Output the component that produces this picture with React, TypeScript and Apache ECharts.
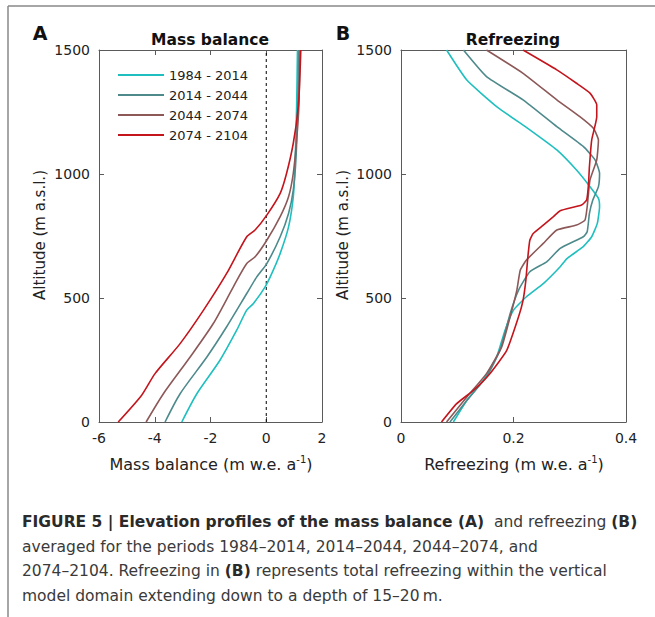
import React, { useEffect, useRef } from "react";
import * as echarts from "echarts";

const periods = ["1984 - 2014", "2014 - 2044", "2044 - 2074", "2074 - 2104"];
const colors = ["#1FBFBF", "#4E8A8C", "#8C5858", "#C4141C"];

// Panel A: mass balance (m w.e. a-1) vs altitude (m a.s.l.)
const mbAlt1 = [0, 114, 249, 370, 451, 478, 545, 599, 680, 787, 908, 1030, 1272, 1500];
const mbVal1 = [-3.03, -2.49, -1.66, -1.06, -0.70, -0.46, -0.04, 0.20, 0.50, 0.80, 0.97, 1.03, 1.09, 1.12];
const mbAlt2 = [0, 114, 262, 384, 518, 585, 639, 747, 841, 935, 1070, 1272, 1500];
const mbVal2 = [-3.63, -3.09, -2.13, -1.42, -0.70, -0.34, 0.02, 0.50, 0.80, 0.97, 1.07, 1.13, 1.17];
const mbAlt3 = [0, 114, 262, 397, 545, 639, 666, 733, 828, 908, 1003, 1137, 1272, 1500];
const mbVal3 = [-4.31, -3.69, -2.73, -1.90, -1.18, -0.70, -0.40, 0.02, 0.50, 0.80, 0.97, 1.09, 1.17, 1.21];
const mbAlt4 = [0, 108, 195, 316, 451, 599, 747, 774, 834, 922, 1003, 1124, 1272, 1406, 1500];
const mbVal4 = [-5.31, -4.47, -3.99, -3.09, -2.25, -1.42, -0.70, -0.40, 0.02, 0.50, 0.73, 0.97, 1.15, 1.21, 1.24];

// Panel B: refreezing (m w.e. a-1) vs altitude
const rfAlt1 = [0, 87, 168, 262, 370, 451, 505, 558, 626, 659, 707, 747, 801, 868, 902, 949, 1016, 1097, 1178, 1272, 1379, 1500];
const rfVal1 = [0.093, 0.117, 0.146, 0.170, 0.185, 0.200, 0.223, 0.253, 0.283, 0.295, 0.324, 0.339, 0.349, 0.353, 0.351, 0.336, 0.312, 0.277, 0.229, 0.170, 0.117, 0.081];
const rfAlt2 = [0, 87, 182, 289, 437, 532, 606, 646, 700, 747, 767, 841, 895, 949, 1003, 1057, 1111, 1191, 1299, 1393, 1500];
const rfVal2 = [0.087, 0.117, 0.152, 0.176, 0.194, 0.209, 0.229, 0.259, 0.283, 0.324, 0.331, 0.335, 0.341, 0.351, 0.353, 0.345, 0.324, 0.277, 0.217, 0.152, 0.111];
const rfAlt3 = [0, 101, 195, 303, 424, 532, 612, 653, 720, 774, 794, 814, 868, 976, 1057, 1137, 1184, 1231, 1299, 1406, 1500];
const rfVal3 = [0.081, 0.117, 0.152, 0.179, 0.194, 0.206, 0.212, 0.223, 0.253, 0.277, 0.312, 0.327, 0.331, 0.336, 0.348, 0.351, 0.342, 0.318, 0.277, 0.217, 0.152];
const rfAlt4 = [0, 74, 128, 195, 289, 424, 491, 572, 653, 733, 760, 794, 828, 852, 875, 895, 949, 1030, 1137, 1231, 1279, 1326, 1366, 1420, 1500];
const rfVal4 = [0.072, 0.099, 0.129, 0.158, 0.188, 0.209, 0.217, 0.222, 0.225, 0.229, 0.235, 0.253, 0.271, 0.283, 0.321, 0.330, 0.333, 0.335, 0.339, 0.348, 0.348, 0.336, 0.312, 0.277, 0.217];

const mbTicks = { min: -6, max: 2, interval: 2 };
const rfTicks = { min: 0, max: 0.4, interval: 0.2 };
const altTicks = { min: 0, max: 1500, interval: 500 };
const zeroLine = [0, 0];
const zeroAlt = [0, 1500];

const FONT = "DejaVu Sans, Verdana, sans-serif";
const AXIS_COLOR = "#5a5a5a";
const TEXT_COLOR = "#222";

function zip(vals: number[], alts: number[]) {
  return vals.map((v, i) => [v, alts[i]]);
}

function axisBase(extra: any) {
  return {
    type: "value",
    axisLine: { show: true, onZero: false, lineStyle: { color: AXIS_COLOR, width: 1 } },
    axisTick: { show: true, inside: true, length: 5, lineStyle: { color: AXIS_COLOR } },
    splitLine: { show: false },
    axisLabel: { color: TEXT_COLOR, fontFamily: FONT, fontSize: 14, margin: 9, formatter: (v: number) => String(v) },
    ...extra,
  };
}

export default function App() {
  const ref = useRef<HTMLDivElement>(null);
  useEffect(() => {
    if (!ref.current) return;
    const chart = echarts.init(ref.current, null, { renderer: "svg" });
    const mbSets = [zip(mbVal1, mbAlt1), zip(mbVal2, mbAlt2), zip(mbVal3, mbAlt3), zip(mbVal4, mbAlt4)];
    const rfSets = [zip(rfVal1, rfAlt1), zip(rfVal2, rfAlt2), zip(rfVal3, rfAlt3), zip(rfVal4, rfAlt4)];
    const series: any[] = [];
    series.push({
      type: "line",
      name: "zero",
      xAxisIndex: 0,
      yAxisIndex: 0,
      data: zeroLine.map((v, i) => [v, zeroAlt[i]]),
      symbol: "none",
      lineStyle: { color: "#000", width: 1, type: [3, 3] },
      silent: true,
    });
    periods.forEach((p, i) => {
      series.push({
        type: "line",
        name: p,
        xAxisIndex: 0,
        yAxisIndex: 0,
        data: mbSets[i],
        symbol: "none",
        showSymbol: false,
        smooth: 0.25,
        lineStyle: { color: colors[i], width: 1.6 },
        itemStyle: { color: colors[i] },
      });
    });
    periods.forEach((p, i) => {
      series.push({
        type: "line",
        name: p,
        xAxisIndex: 2,
        yAxisIndex: 2,
        data: rfSets[i],
        symbol: "none",
        showSymbol: false,
        smooth: 0.15,
        lineStyle: { color: colors[i], width: 1.6 },
        itemStyle: { color: colors[i] },
      });
    });

    const supRich = {
      sup: { fontSize: 10, fontFamily: FONT, fill: TEXT_COLOR, verticalAlign: "top", lineHeight: 20, padding: [0, 0, 8, 0] },
      n: { fontSize: 16, fontFamily: FONT, fill: TEXT_COLOR, lineHeight: 20 },
    };

    chart.setOption({
      animation: false,
      backgroundColor: "#fff",
      grid: [
        { left: 99, top: 50, width: 223, height: 372, containLabel: false },
        { left: 401, top: 50, width: 225, height: 372, containLabel: false },
      ],
      xAxis: [
        axisBase({ gridIndex: 0, position: "bottom", ...mbTicks }),
        axisBase({ gridIndex: 0, position: "top", ...mbTicks, axisLabel: { show: false } }),
        axisBase({ gridIndex: 1, position: "bottom", ...rfTicks }),
        axisBase({ gridIndex: 1, position: "top", ...rfTicks, axisLabel: { show: false } }),
      ],
      yAxis: [
        axisBase({ gridIndex: 0, position: "left", ...altTicks }),
        axisBase({ gridIndex: 0, position: "right", ...altTicks, axisLabel: { show: false } }),
        axisBase({ gridIndex: 1, position: "left", ...altTicks }),
        axisBase({ gridIndex: 1, position: "right", ...altTicks, axisLabel: { show: false } }),
      ],
      legend: {
        data: periods.map((p) => ({ name: p, icon: "rect" })),
        orient: "vertical",
        left: 113,
        top: 63,
        itemWidth: 46,
        itemHeight: 2,
        itemGap: 6,
        textStyle: { color: TEXT_COLOR, fontFamily: FONT, fontSize: 13, lineHeight: 14 },
        selectedMode: false,
      },
      series,
      graphic: [
        { type: "line", shape: { x1: 8, y1: 6, x2: 655, y2: 6 }, style: { stroke: "#888", lineWidth: 1.5 } },
        { type: "line", shape: { x1: 8, y1: 6, x2: 8, y2: 617 }, style: { stroke: "#888", lineWidth: 1.5 } },
        { type: "text", x: 40, y: 33, style: { text: "A", font: `bold 19px ${FONT}`, fill: "#111", align: "center", verticalAlign: "middle" } },
        { type: "text", x: 343, y: 33, style: { text: "B", font: `bold 19px ${FONT}`, fill: "#111", align: "center", verticalAlign: "middle" } },
        { type: "text", x: 210, y: 40, style: { text: "Mass balance", font: `bold 15.5px ${FONT}`, fill: "#111", align: "center", verticalAlign: "middle" } },
        { type: "text", x: 513, y: 40, style: { text: "Refreezing", font: `bold 15.5px ${FONT}`, fill: "#111", align: "center", verticalAlign: "middle" } },
        { type: "text", x: 40, y: 235, rotation: Math.PI / 2, style: { text: "Altitude (m a.s.l.)", font: `15px ${FONT}`, fill: TEXT_COLOR, align: "center", verticalAlign: "middle" } },
        { type: "text", x: 343, y: 235, rotation: Math.PI / 2, style: { text: "Altitude (m a.s.l.)", font: `15px ${FONT}`, fill: TEXT_COLOR, align: "center", verticalAlign: "middle" } },
        { type: "text", x: 211, y: 464, style: { text: "{n|Mass balance (m w.e. a}{sup|-1}{n|)}", rich: supRich, align: "center", verticalAlign: "middle" } },
        { type: "text", x: 514, y: 464, style: { text: "{n|Refreezing (m w.e. a}{sup|-1}{n|)}", rich: supRich, align: "center", verticalAlign: "middle" } },
        {
          type: "text",
          x: 22,
          y: 510,
          style: {
            text:
              "{b|FIGURE 5 | Elevation profiles of the mass balance (A)}{r|  and refreezing }{b|(B)}\n" +
              "{r|averaged for the periods 1984–2014, 2014–2044, 2044–2074, and}\n" +
              "{r|2074–2104. Refreezing in }{b|(B)}{r| represents total refreezing within the vertical}\n" +
              "{r|model domain extending down to a depth of 15–20\u2009m.}",
            rich: {
              b: { fontSize: 15.5, fontWeight: "bold", fontFamily: FONT, fill: "#2a2a2a", lineHeight: 24.5 },
              r: { fontSize: 15.5, fontFamily: FONT, fill: "#3a3a3a", lineHeight: 24.5 },
            },
            align: "left",
            verticalAlign: "top",
          },
        },
      ],
    });
    return () => chart.dispose();
  }, []);
  return <div ref={ref} style={{ position: "fixed", left: 0, top: 0, width: 655, height: 617 }} />;
}
